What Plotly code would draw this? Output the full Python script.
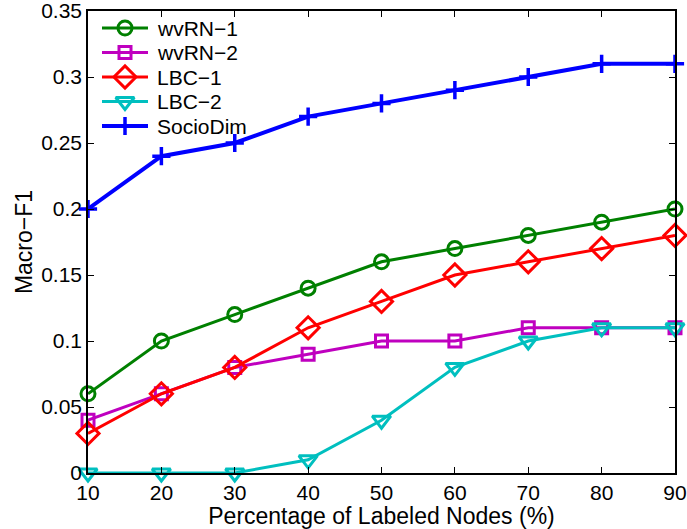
import plotly.graph_objects as go

# Percentage of labeled nodes
pct_labeled = [10, 20, 30, 40, 50, 60, 70, 80, 90]

# Macro-F1 per method
wvrn_1 = [0.06, 0.10, 0.12, 0.14, 0.16, 0.17, 0.18, 0.19, 0.20]
wvrn_2 = [0.04, 0.06, 0.08, 0.09, 0.10, 0.10, 0.11, 0.11, 0.11]
lbc_1 = [0.03, 0.06, 0.08, 0.11, 0.13, 0.15, 0.16, 0.17, 0.18]
lbc_2 = [0.00, 0.00, 0.00, 0.01, 0.04, 0.08, 0.10, 0.11, 0.11]
sociodim = [0.20, 0.24, 0.25, 0.27, 0.28, 0.29, 0.30, 0.31, 0.31]

method_names = ["wvRN\u22121", "wvRN\u22122", "LBC\u22121", "LBC\u22122", "SocioDim"]

y_ticks = [0, 0.05, 0.1, 0.15, 0.2, 0.25, 0.3, 0.35]
y_tick_text = ["0", "0.05", "0.1", "0.15", "0.2", "0.25", "0.3", "0.35"]

# style per method: color, marker symbol, marker size, line width
styles = [
    ("#008000", "circle-open", 14, 3),
    ("#BF00BF", "square-open", 12, 3),
    ("#FF0000", "diamond-open", 17, 3),
    ("#00BFBF", "triangle-down-open", 16, 3),
    ("#0000FF", "cross-thin-open", 13, 4),
]
values = [wvrn_1, wvrn_2, lbc_1, lbc_2, sociodim]

FONT = "Liberation Sans, Arial, Helvetica, sans-serif"
tick_font = dict(family=FONT, size=21, color="black")
title_font = dict(family=FONT, size=23, color="black")

# plot area in pixels
ML, MR, MT, MB = 88, 12, 11, 56
PW, PH = 687 - ML - MR, 529 - MT - MB


def marker_style(color, symbol, msize, lw):
    return dict(symbol=symbol, size=msize, color=color,
                line=dict(color=color, width=3 if lw == 3 else 3.5))


fig = go.Figure()
for name, vals, (color, symbol, msize, lw) in zip(method_names, values, styles):
    fig.add_trace(go.Scatter(
        x=pct_labeled, y=vals, name=name, mode="lines+markers",
        line=dict(color=color, width=lw),
        marker=marker_style(color, symbol, msize, lw),
        cliponaxis=False, showlegend=False,
    ))

# boxless legend in the upper-left corner (pixel offsets from the plot's top-left)
leg_x0, leg_x1, leg_text_x = 14, 60, 67
leg_row0, leg_step = 17, 24.5
annotations = []
for i, (name, (color, symbol, msize, lw)) in enumerate(zip(method_names, styles)):
    yy = leg_row0 + i * leg_step
    fig.add_trace(go.Scatter(
        x=[leg_x0, leg_x1], y=[yy, yy], mode="lines",
        line=dict(color=color, width=lw), xaxis="x2", yaxis="y2",
        showlegend=False, hoverinfo="skip",
    ))
    fig.add_trace(go.Scatter(
        x=[(leg_x0 + leg_x1) / 2], y=[yy], mode="markers",
        marker=marker_style(color, symbol, msize, lw),
        xaxis="x2", yaxis="y2", showlegend=False, hoverinfo="skip",
    ))
    annotations.append(dict(
        x=leg_text_x, y=yy, xref="x2", yref="y2", text=name, showarrow=False,
        xanchor="left", yanchor="middle", font=tick_font,
    ))

fig.update_layout(
    width=687, height=529,
    margin=dict(l=ML, r=MR, t=MT, b=MB, autoexpand=False),
    paper_bgcolor="white", plot_bgcolor="white",
    font=tick_font,
    showlegend=False,
    annotations=annotations,
    xaxis=dict(
        range=[10, 90], tickvals=pct_labeled,
        ticks="inside", ticklen=6, tickcolor="black", tickwidth=1,
        showline=True, linecolor="black", linewidth=1.5, mirror="ticks",
        showgrid=False, zeroline=False, automargin=False,
        tickfont=tick_font, ticklabelstandoff=0, ticklabeloverflow="allow",
        title=dict(text="Percentage of Labeled Nodes (%)", font=title_font, standoff=0),
    ),
    yaxis=dict(
        range=[0, 0.35], tickvals=y_ticks, ticktext=y_tick_text,
        ticks="inside", ticklen=6, tickcolor="black", tickwidth=1,
        showline=True, linecolor="black", linewidth=1.5, mirror="ticks",
        showgrid=False, zeroline=False, automargin=False,
        tickfont=tick_font, ticklabelstandoff=0, ticklabeloverflow="allow",
        title=dict(text="Macro\u2212F1", font=title_font, standoff=2),
    ),
    xaxis2=dict(overlaying="x", range=[0, PW], visible=False, fixedrange=True),
    yaxis2=dict(overlaying="y", range=[PH, 0], visible=False, fixedrange=True),
)

fig.write_html("out.html")
